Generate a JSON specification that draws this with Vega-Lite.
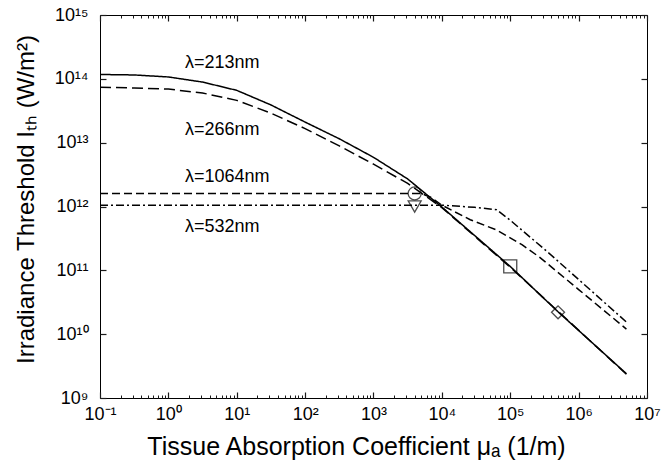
{
  "$schema": "https://vega.github.io/schema/vega-lite/v6.json",
  "width": 547,
  "height": 383,
  "autosize": {"type": "none"},
  "padding": {"left": 100, "top": 15, "right": 16, "bottom": 68},
  "background": "white",
  "config": {
    "view": {"stroke": "black", "strokeWidth": 1},
    "font": "Liberation Sans",
    "axis": {
      "grid": false,
      "domain": false,
      "labelFont": "Liberation Sans",
      "titleFont": "Liberation Sans",
      "labelColor": "black",
      "titleColor": "black",
      "labelFontSize": 18,
      "titleFontSize": 24,
      "titleFontWeight": "normal",
      "labelOverlap": false,
      "labelFlush": false
    }
  },
  "datasets": {
    "lines": [
      {"series": "213", "x": 0.1, "y": 1.17e14},
      {"series": "213", "x": 0.316, "y": 1.15e14},
      {"series": "213", "x": 1, "y": 1.07e14},
      {"series": "213", "x": 3.16, "y": 8.9e13},
      {"series": "213", "x": 10, "y": 6.6e13},
      {"series": "213", "x": 31.6, "y": 3.9e13},
      {"series": "213", "x": 100, "y": 2.1e13},
      {"series": "213", "x": 316, "y": 1.15e13},
      {"series": "213", "x": 1000, "y": 5.9e12},
      {"series": "213", "x": 3162, "y": 2.7e12},
      {"series": "213", "x": 10000, "y": 9.8e11},
      {"series": "213", "x": 100000, "y": 1.15e11},
      {"series": "213", "x": 500000, "y": 2.24e10},
      {"series": "213", "x": 5000000, "y": 2.4e9},
      {"series": "266", "x": 0.1, "y": 7.4e13},
      {"series": "266", "x": 0.316, "y": 7.2e13},
      {"series": "266", "x": 1, "y": 6.9e13},
      {"series": "266", "x": 3.16, "y": 6.0e13},
      {"series": "266", "x": 10, "y": 4.6e13},
      {"series": "266", "x": 31.6, "y": 2.9e13},
      {"series": "266", "x": 100, "y": 1.66e13},
      {"series": "266", "x": 316, "y": 8.9e12},
      {"series": "266", "x": 1000, "y": 4.6e12},
      {"series": "266", "x": 3162, "y": 2.3e12},
      {"series": "266", "x": 10000, "y": 9.6e11},
      {"series": "266", "x": 100000, "y": 1.12e11},
      {"series": "266", "x": 5000000, "y": 2.35e9},
      {"series": "1064", "x": 0.1, "y": 1.6e12},
      {"series": "1064", "x": 5000, "y": 1.6e12},
      {"series": "1064", "x": 7000, "y": 1.38e12},
      {"series": "1064", "x": 10000, "y": 1.05e12},
      {"series": "1064", "x": 26000, "y": 6.2e11},
      {"series": "1064", "x": 63000, "y": 4.3e11},
      {"series": "1064", "x": 150000, "y": 2.5e11},
      {"series": "1064", "x": 270000, "y": 1.6e11},
      {"series": "1064", "x": 1000000, "y": 5.0e10},
      {"series": "1064", "x": 5000000, "y": 1.2e10},
      {"series": "532", "x": 0.1, "y": 1.05e12},
      {"series": "532", "x": 10000, "y": 1.05e12},
      {"series": "532", "x": 30000, "y": 9.7e11},
      {"series": "532", "x": 63000, "y": 8.9e11},
      {"series": "532", "x": 98000, "y": 6.2e11},
      {"series": "532", "x": 350000, "y": 1.95e11},
      {"series": "532", "x": 5000000, "y": 1.55e10}
    ],
    "markers": [
      {"kind": "circle", "x": 4000, "y": 1.6e12},
      {"kind": "triangle", "x": 4000, "y": 1.0e12},
      {"kind": "square", "x": 100000, "y": 1.15e11},
      {"kind": "diamond", "x": 500000, "y": 2.2e10}
    ],
    "labels": [
      {"group": "a", "label": "λ=213nm", "x": 1.75, "y": 1.48e14},
      {"group": "a", "label": "λ=266nm", "x": 1.75, "y": 1.32e13},
      {"group": "b", "label": "λ=1064nm", "x": 1.75, "y": 2.4e12},
      {"group": "b", "label": "λ=532nm", "x": 1.75, "y": 4.0e11}
    ]
  },
  "layer": [
    {
      "data": {"name": "lines"},
      "mark": {"type": "line", "color": "black", "strokeWidth": 1.5, "clip": true},
      "encoding": {
        "x": {
          "field": "x", "type": "quantitative",
          "scale": {"type": "log", "domain": [0.1, 10000000], "nice": false},
          "axis": {
            "orient": "bottom",
            "offset": -6,
            "tickSize": 6,
            "tickColor": "#1a1a1a",
            "tickWidth": 1.2,
            "values": [0.1, 1, 10, 100, 1000, 10000, 100000, 1000000, 10000000],
            "labelExpr": "'10' + ['⁻¹','⁰','¹','²','³','⁴','⁵','⁶','⁷'][round(log(datum.value)/LN10)+1]",
            "labelPadding": 7,
            "title": "Tissue Absorption Coefficient μₐ (1/m)",
            "titleFontSize": 25,
            "titleX": 256,
            "titleY": 62,
            "titleBaseline": "alphabetic"
          }
        },
        "y": {
          "field": "y", "type": "quantitative",
          "scale": {"type": "log", "domain": [1000000000, 1000000000000000], "nice": false},
          "axis": {
            "orient": "left",
            "offset": -6,
            "tickSize": 6,
            "tickColor": "#1a1a1a",
            "tickWidth": 1.2,
            "values": [1e9, 1e10, 1e11, 1e12, 1e13, 1e14, 1e15],
            "labelExpr": "'10' + ['⁹','¹⁰','¹¹','¹²','¹³','¹⁴','¹⁵'][round(log(datum.value)/LN10) - 9]",
            "labelPadding": 12,
            "title": "Irradiance Threshold Iₜₕ (W/m²)",
            "titleX": -73,
            "titleY": 184,
            "titleBaseline": "alphabetic"
          }
        },
        "strokeDash": {
          "field": "series", "type": "nominal",
          "scale": {"domain": ["213", "266", "1064", "532"], "range": [[1, 0], [11, 5], [8, 4], [8, 3, 2, 3]]},
          "legend": null
        }
      }
    },
    {
      "data": {"name": "markers"},
      "mark": {"type": "point", "filled": false, "stroke": "black", "strokeWidth": 1.3},
      "encoding": {
        "x": {
          "field": "x", "type": "quantitative",
          "axis": {
            "orient": "top",
            "offset": -6,
            "tickSize": 6,
            "tickColor": "#1a1a1a",
            "tickWidth": 1.2,
            "values": [0.1, 1, 10, 100, 1000, 10000, 100000, 1000000, 10000000],
            "labels": false,
            "title": null
          }
        },
        "y": {
          "field": "y", "type": "quantitative",
          "axis": {
            "orient": "right",
            "offset": -6,
            "tickSize": 6,
            "tickColor": "#1a1a1a",
            "tickWidth": 1.2,
            "values": [1e9, 1e10, 1e11, 1e12, 1e13, 1e14, 1e15],
            "labels": false,
            "title": null
          }
        },
        "shape": {
          "field": "kind", "type": "nominal",
          "scale": {"domain": ["circle", "triangle", "square", "diamond"], "range": ["circle", "triangle-down", "square", "diamond"]},
          "legend": null
        },
        "size": {
          "field": "kind", "type": "nominal",
          "scale": {"domain": ["circle", "triangle", "square", "diamond"], "range": [169, 169, 169, 260]},
          "legend": null
        }
      }
    },
    {
      "data": {"name": "labels"},
      "transform": [{"filter": "datum.group == 'a'"}],
      "mark": {"type": "text", "align": "left", "baseline": "alphabetic", "fontSize": 18, "font": "Liberation Sans", "color": "black"},
      "encoding": {
        "x": {
          "field": "x", "type": "quantitative",
          "axis": {
            "orient": "bottom",
            "offset": -3,
            "tickSize": 3,
            "tickColor": "#1a1a1a",
            "tickWidth": 1,
            "values": [0.2,0.3,0.4,0.5,0.6,0.7,0.8,0.9,2,3,4,5,6,7,8,9,20,30,40,50,60,70,80,90,200,300,400,500,600,700,800,900,2000,3000,4000,5000,6000,7000,8000,9000,20000,30000,40000,50000,60000,70000,80000,90000,200000,300000,400000,500000,600000,700000,800000,900000,2000000,3000000,4000000,5000000,6000000,7000000,8000000,9000000],
            "labels": false,
            "title": null
          }
        },
        "y": {"field": "y", "type": "quantitative", "axis": null},
        "text": {"field": "label", "type": "nominal"}
      }
    },
    {
      "data": {"name": "labels"},
      "transform": [{"filter": "datum.group == 'b'"}],
      "mark": {"type": "text", "align": "left", "baseline": "alphabetic", "fontSize": 18, "font": "Liberation Sans", "color": "black"},
      "encoding": {
        "x": {
          "field": "x", "type": "quantitative",
          "axis": {
            "orient": "top",
            "offset": -3,
            "tickSize": 3,
            "tickColor": "#1a1a1a",
            "tickWidth": 1,
            "values": [0.2,0.3,0.4,0.5,0.6,0.7,0.8,0.9,2,3,4,5,6,7,8,9,20,30,40,50,60,70,80,90,200,300,400,500,600,700,800,900,2000,3000,4000,5000,6000,7000,8000,9000,20000,30000,40000,50000,60000,70000,80000,90000,200000,300000,400000,500000,600000,700000,800000,900000,2000000,3000000,4000000,5000000,6000000,7000000,8000000,9000000],
            "labels": false,
            "title": null
          }
        },
        "y": {"field": "y", "type": "quantitative", "axis": null},
        "text": {"field": "label", "type": "nominal"}
      }
    }
  ],
  "resolve": {"axis": {"x": "independent", "y": "independent"}}
}
